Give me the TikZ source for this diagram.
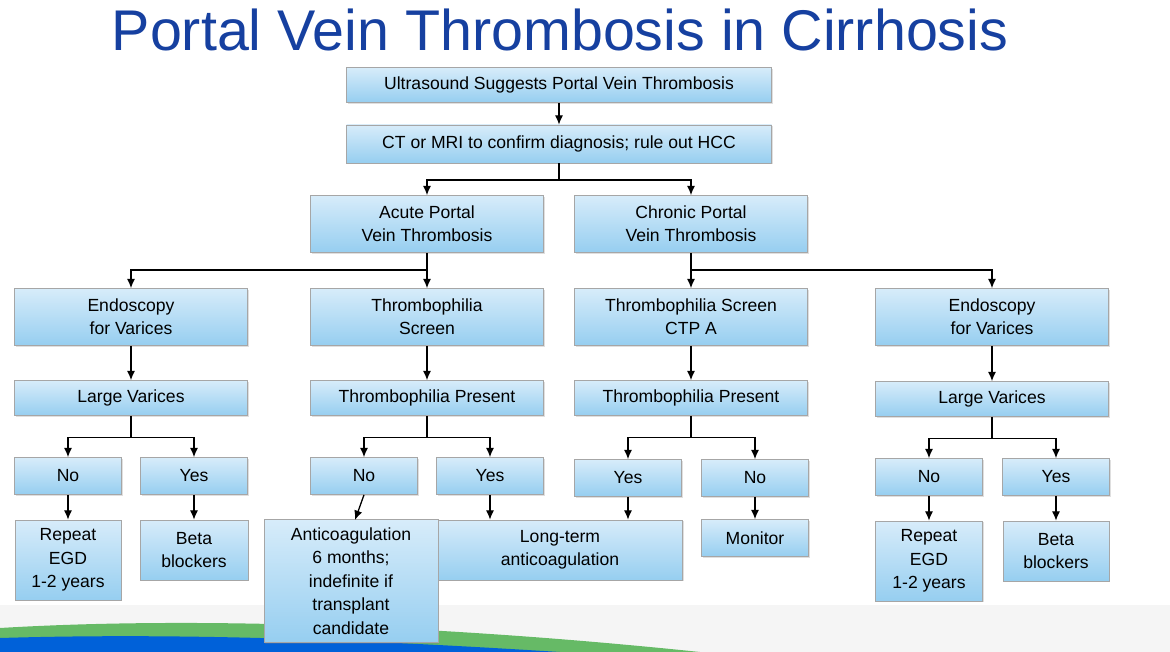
\documentclass[tikz,border=0pt]{standalone}
\usepackage{fontspec}
\setmainfont{Liberation Sans}
\definecolor{titleblue}{RGB}{22,64,160}
\definecolor{boxtop}{RGB}{215,236,250}
\definecolor{boxbot}{RGB}{150,206,240}
\tikzset{
  box/.style={draw=black!35,line width=0.6pt,top color=boxtop,bottom color=boxbot,
    align=center,inner sep=0pt,font=\fontsize{15}{20}\selectfont,
    drop shadow={opacity=0.25,shadow xshift=1pt,shadow yshift=-1pt}},
  arr/.style={line width=1.1pt,-{Latex[length=8pt,width=7pt]}},
  ln/.style={line width=1.1pt}
}
\usetikzlibrary{arrows.meta,shadows}
\begin{document}
\begin{tikzpicture}[x=0.03cm,y=-0.03cm]
  \useasboundingbox (0,0) rectangle (1170,652);
  \fill[white] (0,0) rectangle (1170,652);
  % bottom band and swoosh
  \fill[black!4] (0,605) rectangle (1170,652);
  \fill[green!55!black!60] (0,628) .. controls (200,616) and (450,626) .. (700,652) -- (0,652) -- cycle;
  \fill[blue!55!cyan!85!black] (0,638) .. controls (200,632) and (400,642) .. (560,652) -- (0,652) -- cycle;
  \node[font=\fontsize{49}{52}\selectfont,text=titleblue] (title) at (560,30) {Portal Vein Thrombosis in Cirrhosis};
  % top of the chart
  \node[box,minimum width=425*0.03cm,minimum height=35*0.03cm] (us) at (559,85) {Ultrasound Suggests Portal Vein Thrombosis};
  \node[box,minimum width=425*0.03cm,minimum height=38*0.03cm] (ct) at (559,144) {CT or MRI to confirm diagnosis; rule out HCC};
  \node[box,minimum width=233*0.03cm,minimum height=57*0.03cm] (acute) at (427,224) {Acute Portal\\Vein Thrombosis};
  \node[box,minimum width=233*0.03cm,minimum height=57*0.03cm] (chronic) at (691,224) {Chronic Portal\\Vein Thrombosis};
  % second level
  \node[box,minimum width=233*0.03cm,minimum height=57*0.03cm] (endoA) at (131,317) {Endoscopy\\for Varices};
  \node[box,minimum width=233*0.03cm,minimum height=57*0.03cm] (screenA) at (427,317) {Thrombophilia\\Screen};
  \node[box,minimum width=233*0.03cm,minimum height=57*0.03cm] (screenC) at (691,317) {Thrombophilia Screen\\CTP A};
  \node[box,minimum width=233*0.03cm,minimum height=57*0.03cm] (endoC) at (992,317) {Endoscopy\\for Varices};
  \node[box,minimum width=233*0.03cm,minimum height=35*0.03cm] (largeA) at (131,398) {Large Varices};
  \node[box,minimum width=233*0.03cm,minimum height=35*0.03cm] (presA) at (427,398) {Thrombophilia Present};
  \node[box,minimum width=233*0.03cm,minimum height=35*0.03cm] (presC) at (691,398) {Thrombophilia Present};
  \node[box,minimum width=233*0.03cm,minimum height=35*0.03cm] (largeC) at (992,399) {Large Varices};
  % yes / no
  \foreach \n/\t/\x/\y in {noA/No/68/476, yesA/Yes/194/476, noB/No/364/476, yesB/Yes/490/476,
      yesC/Yes/628/478, noC/No/755/478, noD/No/929/477, yesD/Yes/1056/477}
    \node[box,minimum width=107*0.03cm,minimum height=37*0.03cm] (\n) at (\x,\y) {\t};
  % outcomes
  \node[box,minimum width=106*0.03cm,minimum height=80*0.03cm] (repA) at (68,560) {Repeat\\EGD\\1-2 years};
  \node[box,minimum width=108*0.03cm,minimum height=60*0.03cm] (betaA) at (194,550) {Beta\\blockers};
  \node[box,minimum width=245*0.03cm,minimum height=60*0.03cm] (longterm) at (560,550) {Long-term\\anticoagulation};
  \node[box,minimum width=174*0.03cm,minimum height=123*0.03cm] (anticoag) at (351,581) {Anticoagulation\\6 months;\\indefinite if\\transplant\\candidate};
  \node[box,minimum width=107*0.03cm,minimum height=37*0.03cm] (monitor) at (755,538) {Monitor};
  \node[box,minimum width=107*0.03cm,minimum height=80*0.03cm] (repC) at (929,561) {Repeat\\EGD\\1-2 years};
  \node[box,minimum width=106*0.03cm,minimum height=60*0.03cm] (betaC) at (1056,551) {Beta\\blockers};
  % connectors
  \draw[arr] (us) -- (ct);
  \draw[ln] (ct.south) -- (559,180) coordinate (ctj);
  \draw[arr] (ctj) -| (acute.north);
  \draw[arr] (ctj) -| (chronic.north);
  \draw[ln] (acute.south) -- (427,270) coordinate (acj);
  \draw[arr] (acj) -| (endoA.north);
  \draw[arr] (acj) -- (screenA.north);
  \draw[ln] (chronic.south) -- (691,270) coordinate (chj);
  \draw[arr] (chj) -- (screenC.north);
  \draw[arr] (chj) -| (endoC.north);
  \foreach \a/\b in {endoA/largeA, screenA/presA, screenC/presC, endoC/largeC}
    \draw[arr] (\a) -- (\b);
  \foreach \p/\l/\r in {largeA/noA/yesA, presA/noB/yesB, presC/yesC/noC, largeC/noD/yesD} {
    \draw[ln] (\p.south) -- ++(0,22) coordinate (\p j);
    \draw[arr] (\p j) -| (\l.north);
    \draw[arr] (\p j) -| (\r.north);
  }
  \draw[arr] (noA) -- (repA);
  \draw[arr] (yesA) -- (betaA);
  \draw[arr] (noB.south) -- (355,520);
  \draw[arr] (yesB.south) -- (yesB.south |- longterm.north);
  \draw[arr] (yesC.south) -- (yesC.south |- longterm.north);
  \draw[arr] (noC) -- (monitor);
  \draw[arr] (noD) -- (repC);
  \draw[arr] (yesD) -- (betaC);
\end{tikzpicture}
\end{document}
